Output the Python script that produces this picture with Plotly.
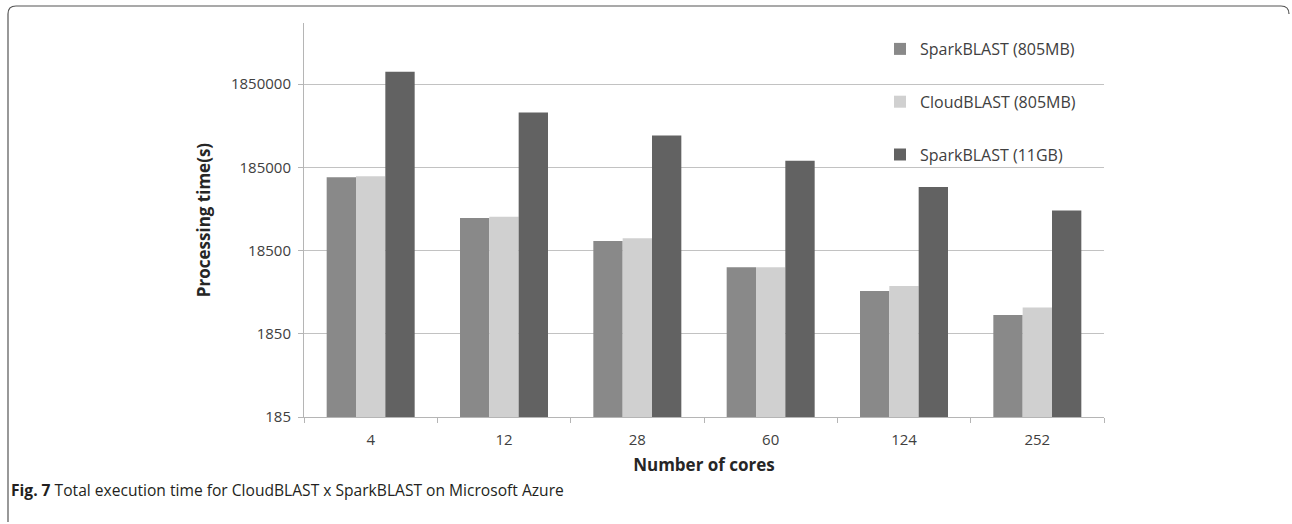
import plotly.graph_objects as go

cores = ["4", "12", "28", "60", "124", "252"]
spark_805 = [140700, 45600, 24100, 11650, 6040, 3110]
cloud_805 = [144500, 46900, 26000, 11650, 6950, 3820]
spark_11gb = [2594000, 843000, 446000, 221000, 107500, 56000]

series_names = ["SparkBLAST (805MB)", "CloudBLAST (805MB)", "SparkBLAST (11GB)"]
series_colors = ["#898989", "#d0d0d0", "#626262"]
y_tickvals = [185, 1850, 18500, 185000, 1850000]
y_ticktext = ["185", "1850", "18500", "185000", "1850000"]

W, H = 1292, 524
L, R, T, B = 304, 188, 23, 107
PW, PH = W - L - R, H - T - B

def px(x):
    return (x - L) / PW

def py(y):
    return (H - B - y) / PH

fig = go.Figure()
for i, (name, vals, col) in enumerate(zip(series_names, [spark_805, cloud_805, spark_11gb], series_colors)):
    fig.add_trace(go.Bar(x=cores, y=vals, name=name, marker=dict(color=col, line=dict(width=0)),
                         legendgroup=f"g{i}"))

font_family = "Open Sans, Lato, sans-serif"
fig.update_layout(
    width=W, height=H,
    margin=dict(l=L, r=R, t=T, b=B, pad=0),
    paper_bgcolor="white", plot_bgcolor="white",
    barmode="group", bargap=0.34, bargroupgap=0,
    font=dict(family=font_family, color="#404040", size=15),
    showlegend=True,
    legend=dict(x=px(880), y=py(32), xanchor="left", yanchor="top",
                bgcolor="rgba(0,0,0,0)", tracegroupgap=29,
                font=dict(size=16, color="#404040"), itemwidth=30),
    xaxis=dict(type="category", showline=True, linecolor="#b5b5b5", linewidth=1,
               ticks="outside", tickson="boundaries", ticklen=5, tickcolor="#b5b5b5",
               showgrid=False, tickfont=dict(size=15, color="#404040"), ticklabelstandoff=9,
               title=dict(text="<b>Number of cores</b>", font=dict(size=17, color="#262626"), standoff=11)),
    yaxis=dict(type="log", range=[2.2672, 7.0], showline=True, linecolor="#b5b5b5", linewidth=1,
               tickvals=y_tickvals, ticktext=y_ticktext, ticks="outside", ticklen=5, tickcolor="#b5b5b5",
               ticklabelstandoff=4,
               showgrid=True, gridcolor="#c2c2c2", gridwidth=1.3, zeroline=False,
               tickfont=dict(size=15, color="#404040"),
               title=dict(text="<b>Processing time(s)</b>", font=dict(size=17, color="#262626"), standoff=16)),
)

# caption
fig.add_annotation(xref="paper", yref="paper", x=px(9), y=py(490), xanchor="left", yanchor="middle",
                   text="<b>Fig. 7</b> Total execution time for CloudBLAST x SparkBLAST on Microsoft Azure",
                   showarrow=False, font=dict(family=font_family, size=15.6, color="#231f20"))

# frame (open rounded border)
x0, x1 = px(8), px(1289)
yt, yb = py(6), py(522)
r_x, r_y = 8 / PW, 8 / PH
path = (f"M {x0},{yb} L {x0},{yt - r_y} Q {x0},{yt} {x0 + r_x},{yt} "
        f"L {x1 - r_x},{yt} Q {x1},{yt} {x1},{yt - r_y}")
fig.add_shape(type="path", xref="paper", yref="paper", path=path,
              line=dict(color="#555555", width=1.2))

fig.write_html("out.html", config={"displayModeBar": False},
               post_script="document.body.style.margin='0';document.body.style.padding='0';")
